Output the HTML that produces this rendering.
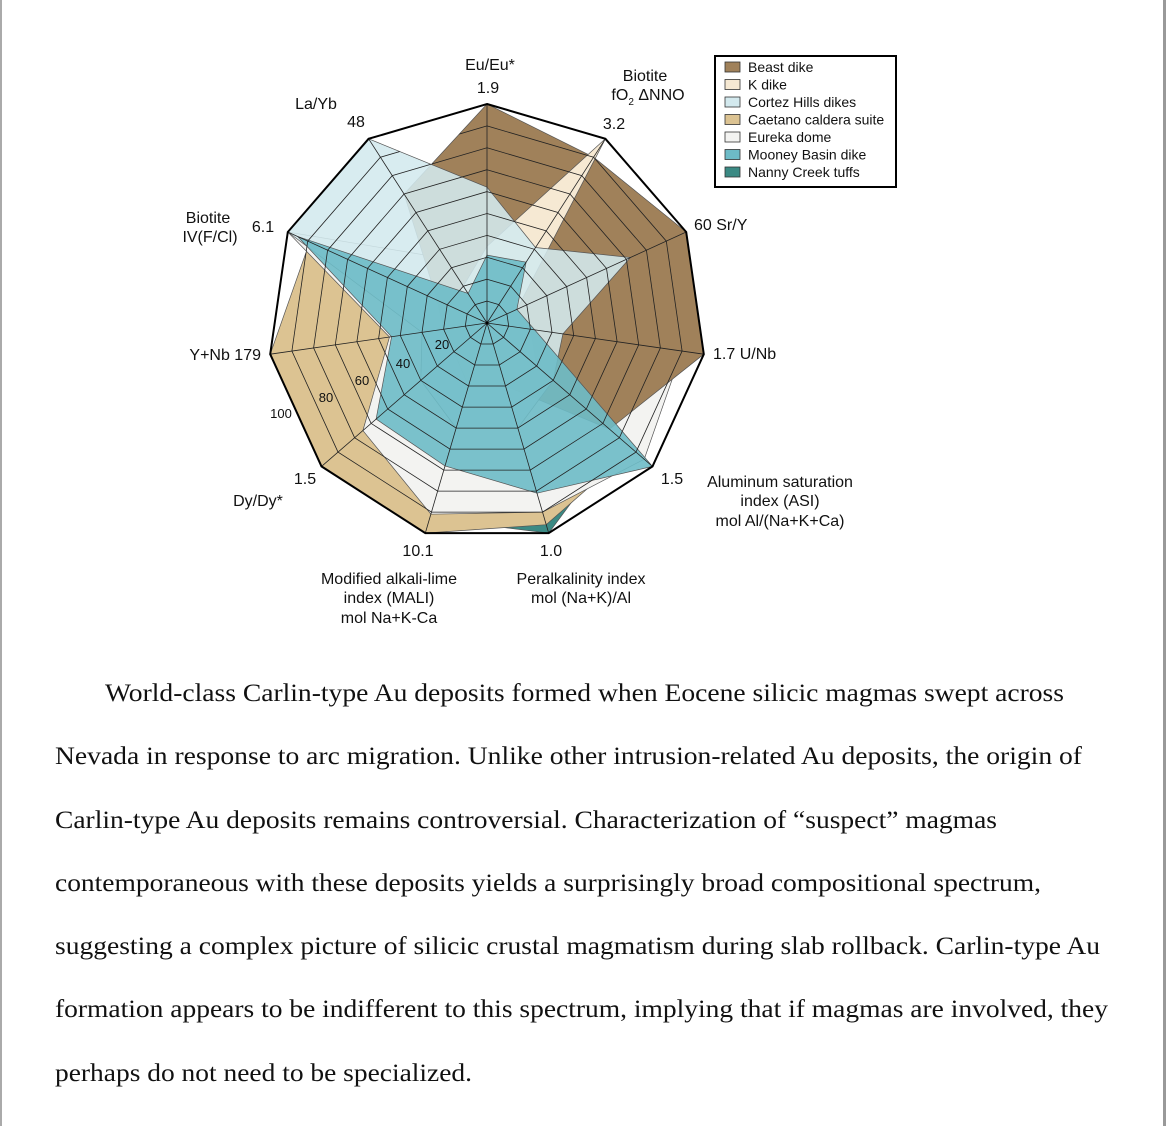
<!DOCTYPE html>
<html><head><meta charset="utf-8"><style>
html,body{margin:0;padding:0;background:#fff}
svg{display:block}
</style></head><body>
<svg id="s" width="1168" height="1126" viewBox="0 0 1168 1126" xmlns="http://www.w3.org/2000/svg">
<rect x="0" y="0" width="1168" height="1126" fill="#fff"/>
<rect x="0" y="0" width="2" height="1126" fill="#aaa"/>
<rect x="1163" y="0" width="3" height="1126" fill="#999"/>
<g id="chart"></g>
<g font-family="Liberation Sans, sans-serif" font-size="16" fill="#111" text-anchor="middle">
<text x="490" y="70">Eu/Eu*</text>
<text x="488" y="93">1.9</text>
<text x="645" y="81">Biotite</text>
<text x="648" y="100">fO<tspan font-size="10" dy="5">2</tspan><tspan dy="-5"> ΔNNO</tspan></text>
<text x="614" y="129">3.2</text>
<text x="316" y="109">La/Yb</text>
<text x="356" y="127">48</text>
<text x="208" y="223">Biotite</text>
<text x="210" y="242">IV(F/Cl)</text>
<text x="263" y="232">6.1</text>
<text x="694" y="230" text-anchor="start">60  Sr/Y</text>
<text x="713" y="359" text-anchor="start">1.7  U/Nb</text>
<text x="261" y="360" text-anchor="end">Y+Nb  179</text>
<text x="672" y="484">1.5</text>
<text x="780" y="487">Aluminum saturation</text>
<text x="780" y="506">index (ASI)</text>
<text x="780" y="526">mol Al/(Na+K+Ca)</text>
<text x="305" y="484">1.5</text>
<text x="258" y="506">Dy/Dy*</text>
<text x="418" y="556">10.1</text>
<text x="551" y="556">1.0</text>
<text x="389" y="584">Modified alkali-lime</text>
<text x="389" y="603">index (MALI)</text>
<text x="389" y="623">mol Na+K-Ca</text>
<text x="581" y="584">Peralkalinity index</text>
<text x="581" y="603">mol (Na+K)/Al</text>
</g>
<g font-family="Liberation Sans, sans-serif" font-size="13" fill="#111" text-anchor="middle">
<text x="442" y="349">20</text>
<text x="403" y="368">40</text>
<text x="362" y="385">60</text>
<text x="326" y="402">80</text>
<text x="281" y="418">100</text>
</g>
<g>
<rect x="715" y="56" width="181" height="131" fill="#fff" stroke="#000" stroke-width="2"/>
<g stroke="#333" stroke-width="0.8">
<rect x="725" y="62" width="15" height="10" fill="#a0815a"/>
<rect x="725" y="79.5" width="15" height="10" fill="#f6e9d3"/>
<rect x="725" y="97" width="15" height="10" fill="#d3e9ee"/>
<rect x="725" y="114.5" width="15" height="10" fill="#dcc392"/>
<rect x="725" y="132" width="15" height="10" fill="#f3f3f1"/>
<rect x="725" y="149.5" width="15" height="10" fill="#6dbbc7"/>
<rect x="725" y="167" width="15" height="10" fill="#3b8a84"/>
</g>
<g font-family="Liberation Sans, sans-serif" font-size="14" fill="#111">
<text x="748" y="72">Beast dike</text>
<text x="748" y="89.5">K dike</text>
<text x="748" y="107">Cortez Hills dikes</text>
<text x="748" y="124.5">Caetano caldera suite</text>
<text x="748" y="142">Eureka dome</text>
<text x="748" y="159.5">Mooney Basin dike</text>
<text x="748" y="177">Nanny Creek tuffs</text>
</g>
</g>
<g font-family="Liberation Serif, serif" font-size="25" fill="#111">
<text x="105" y="701" textLength="959" lengthAdjust="spacingAndGlyphs">World-class Carlin-type Au deposits formed when Eocene silicic magmas swept across</text>
<text x="55" y="764" textLength="1027" lengthAdjust="spacingAndGlyphs">Nevada in response to arc migration. Unlike other intrusion-related Au deposits, the origin of</text>
<text x="55" y="828" textLength="942" lengthAdjust="spacingAndGlyphs">Carlin-type Au deposits remains controversial. Characterization of “suspect” magmas</text>
<text x="55" y="891" textLength="986" lengthAdjust="spacingAndGlyphs">contemporaneous with these deposits yields a surprisingly broad compositional spectrum,</text>
<text x="55" y="954" textLength="1045" lengthAdjust="spacingAndGlyphs">suggesting a complex picture of silicic crustal magmatism during slab rollback. Carlin-type Au</text>
<text x="55" y="1017" textLength="1053" lengthAdjust="spacingAndGlyphs">formation appears to be indifferent to this spectrum, implying that if magmas are involved, they</text>
<text x="55" y="1081" textLength="417" lengthAdjust="spacingAndGlyphs">perhaps do not need to be specialized.</text>
</g>
</svg>
<script>
(function(){
var cx=487,cy=323,R=219,N=11,NS="http://www.w3.org/2000/svg";
function pt(k,v){var a=k*2*Math.PI/N;return [cx+R*v*Math.sin(a),cy-R*v*Math.cos(a)];}
function poly(vals){return vals.map(function(v,k){var p=pt(k,v);return p[0].toFixed(1)+","+p[1].toFixed(1);}).join(" ");}
function ring(v){var a=[];for(var k=0;k<N;k++)a.push(v);return a;}
var data=[
 ["#3b8a84",1,[0.2,0.2,0.2,0.3,0.8,1.0,0.93,0.6,0.3,0.5,0.2]],
 ["#dcc392",1,[0.2,0.2,0.3,0.5,0.88,0.96,1.0,1.0,1.0,0.89,0.3]],
 ["#f3f3f1",1,[0.29,0.25,0.3,0.9,0.95,0.9,0.91,0.75,0.45,1.0,0.35]],
 ["#a0815a",1,[1.0,0.9,1.0,1.0,0.74,0.3,0.2,0.2,0.2,0.25,0.7]],
 ["#f6e9d3",1,[0.35,1.0,0.15,0.2,0.3,0.3,0.3,0.2,0.2,0.2,0.2]],
 ["#d3e9ee",0.88,[0.62,0.41,0.72,0.35,0.4,0.5,0.5,0.4,0.3,1.0,1.0]],
 ["#6dbbc7",0.9,[0.31,0.33,0.15,0.22,1.0,0.81,0.68,0.67,0.44,0.95,0.16]]
];
var g=document.getElementById("chart");
var h='<defs><clipPath id="cp">';
data.forEach(function(d){h+='<polygon points="'+poly(d[2])+'"/>';});
h+='</clipPath></defs>';
data.forEach(function(d){h+='<polygon points="'+poly(d[2])+'" fill="'+d[0]+'" fill-opacity="'+d[1]+'" stroke="#555" stroke-width="0.7"/>';});
h+='<g clip-path="url(#cp)" fill="none" stroke="#222" stroke-width="0.8">';
for(var i=1;i<=10;i++)h+='<polygon points="'+poly(ring(i/10))+'"/>';
for(var k=0;k<N;k++){var p=pt(k,1);h+='<line x1="'+cx+'" y1="'+cy+'" x2="'+p[0].toFixed(1)+'" y2="'+p[1].toFixed(1)+'"/>';}
h+='</g>';
h+='<polygon points="'+poly(ring(1))+'" fill="none" stroke="#000" stroke-width="2"/>';
h+='<circle cx="'+cx+'" cy="'+cy+'" r="1.5" fill="#000"/>';
g.innerHTML=h;
})();
</script>
</body></html>
